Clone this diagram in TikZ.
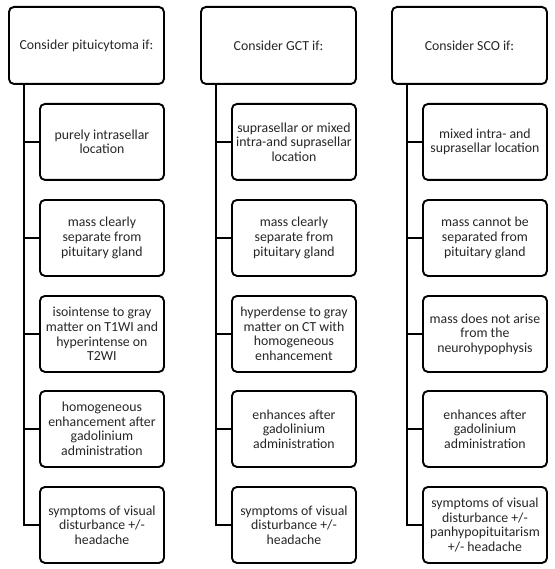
\documentclass[tikz,border=0pt]{standalone}
\usepackage{fontspec}
\setmainfont{Carlito}
\begin{document}
\begin{tikzpicture}[x=1pt,y=-1pt,
  box/.style={draw, line width=1.9pt, rounded corners=5pt, anchor=north west,
    align=center, font=\fontsize{13.8}{14.6}\selectfont, inner sep=1pt, text=black!85},
  head/.style={box, minimum width=155pt, minimum height=77pt},
  item/.style={box, minimum width=124pt, minimum height=76pt},
  link/.style={line width=1.9pt}]
\useasboundingbox (0,0) rectangle (554,569);
% column 1
\node[head] (h1) at (8,6) {Consider pituicytoma if:};
\node[item] (a1) at (39,103) {purely intrasellar\\location};
\node[item] (a2) at (39,199) {mass clearly\\separate from\\pituitary gland};
\node[item] (a3) at (39,295) {isointense to gray\\matter on T1WI and\\hyperintense on\\T2WI};
\node[item] (a4) at (39,390) {homogeneous\\enhancement after\\gadolinium\\administration};
\node[item] (a5) at (39,486) {symptoms of visual\\disturbance +/-\\headache};
% column 2
\node[head] (h2) at (200,6) {Consider GCT if:};
\node[item] (b1) at (231,103) {suprasellar or mixed\\intra-and suprasellar\\location};
\node[item] (b2) at (231,199) {mass clearly\\separate from\\pituitary gland};
\node[item] (b3) at (231,295) {hyperdense to gray\\matter on CT with\\homogeneous\\enhancement};
\node[item] (b4) at (231,390) {enhances after\\gadolinium\\administration};
\node[item] (b5) at (231,486) {symptoms of visual\\disturbance +/-\\headache};
% column 3
\node[head] (h3) at (391,6) {Consider SCO if:};
\node[item] (c1) at (422,103) {mixed intra- and\\suprasellar location};
\node[item] (c2) at (422,199) {mass cannot be\\separated from\\pituitary gland};
\node[item] (c3) at (422,295) {mass does not arise\\from the\\neurohypophysis};
\node[item] (c4) at (422,390) {enhances after\\gadolinium\\administration};
\node[item] (c5) at (422,486) {symptoms of visual\\disturbance +/-\\panhypopituitarism\\+/- headache};
% connectors
\foreach \h/\c in {h1/a,h2/b,h3/c}{
  \foreach \k in {1,...,5}{
    \draw[link] ([xshift=16pt]\h.south west) |- (\c\k.west);
  }
}
\end{tikzpicture}
\end{document}
